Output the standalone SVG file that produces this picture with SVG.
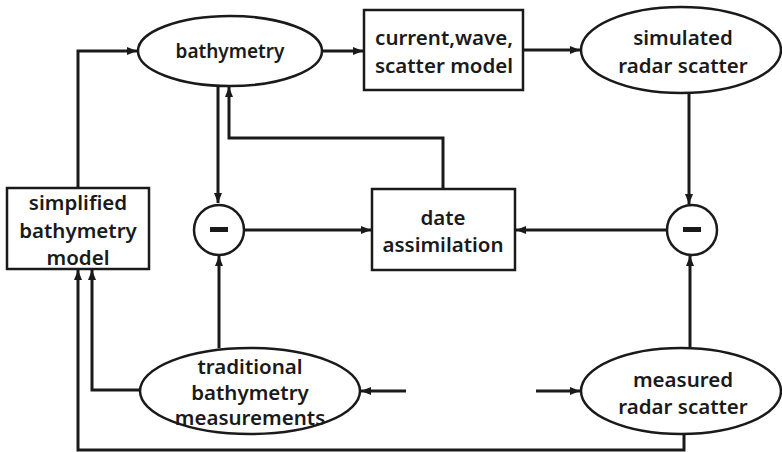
<svg xmlns="http://www.w3.org/2000/svg" width="782" height="452" viewBox="0 0 782 452">
<defs>
<marker id="ah" viewBox="0 0 10 8" refX="10" refY="4" markerWidth="10" markerHeight="8" markerUnits="userSpaceOnUse" orient="auto">
<path d="M0,0 L10,4 L0,8 z" fill="#1a1a1a"/>
</marker>
<style>
.n{fill:#fff;stroke:#1a1a1a;stroke-width:2.5}
.t{font-family:"Noto Sans","Liberation Sans",sans-serif;font-weight:600;fill:#1a1a1a;text-anchor:middle;font-size:20.5px}
.c{fill:none;stroke:#1a1a1a;stroke-width:3}
.a{marker-end:url(#ah)}
</style>
</defs>
<rect width="782" height="452" fill="#fff"/>
<g id="connectors">
<path class="c a" d="M78,188 V51 H137"/>
<path class="c a" d="M322,51 H363"/>
<path class="c a" d="M523,50 H580"/>
<path class="c a" d="M218,86 V203"/>
<path class="c a" d="M443,189 V138 H229 V87"/>
<path class="c a" d="M244,230 H371"/>
<path class="c a" d="M667,230 H516"/>
<path class="c a" d="M689,93 V204"/>
<path class="c a" d="M690,348 V256"/>
<path class="c a" d="M219,348 V256"/>
<path class="c a" d="M140,390 H92 V270"/>
<path class="c a" d="M684,435 V450 H78 V270"/>
<path class="c a" d="M406,391 H361"/>
<path class="c a" d="M536,391 H580"/>
</g>
<g id="bathymetry">
<ellipse class="n" cx="230" cy="51" rx="92" ry="35"/>
<text class="t" x="230" y="58" style="font-size:19px">bathymetry</text>
</g>
<g id="current">
<rect class="n" x="364" y="10" width="159" height="80"/>
<text class="t" x="444" y="45">current,wave,</text>
<text class="t" x="444" y="73">scatter model</text>
</g>
<g id="simulated">
<ellipse class="n" cx="681" cy="50" rx="100" ry="43"/>
<text class="t" x="683" y="45">simulated</text>
<text class="t" x="683" y="73">radar scatter</text>
</g>
<g id="simplified">
<rect class="n" x="7" y="188" width="142" height="81"/>
<text class="t" x="78" y="210">simplified</text>
<text class="t" x="78" y="238">bathymetry</text>
<text class="t" x="78" y="265">model</text>
</g>
<g id="minus-left">
<circle class="n" cx="219" cy="230" r="25"/>
<rect x="210" y="227" width="18" height="5" fill="#1a1a1a"/>
</g>
<g id="date">
<rect class="n" x="372" y="189" width="143" height="81"/>
<text class="t" x="443" y="225">date</text>
<text class="t" x="443" y="252">assimilation</text>
</g>
<g id="minus-right">
<circle class="n" cx="692" cy="230" r="25"/>
<rect x="683" y="227" width="18" height="5" fill="#1a1a1a"/>
</g>
<g id="traditional">
<ellipse class="n" cx="250" cy="391" rx="110" ry="43"/>
<text class="t" x="250" y="374">traditional</text>
<text class="t" x="250" y="400">bathymetry</text>
<text class="t" x="250" y="425">measurements</text>
</g>
<g id="measured">
<ellipse class="n" cx="681" cy="391" rx="100" ry="43"/>
<text class="t" x="683" y="387">measured</text>
<text class="t" x="683" y="414">radar scatter</text>
</g>
</svg>
